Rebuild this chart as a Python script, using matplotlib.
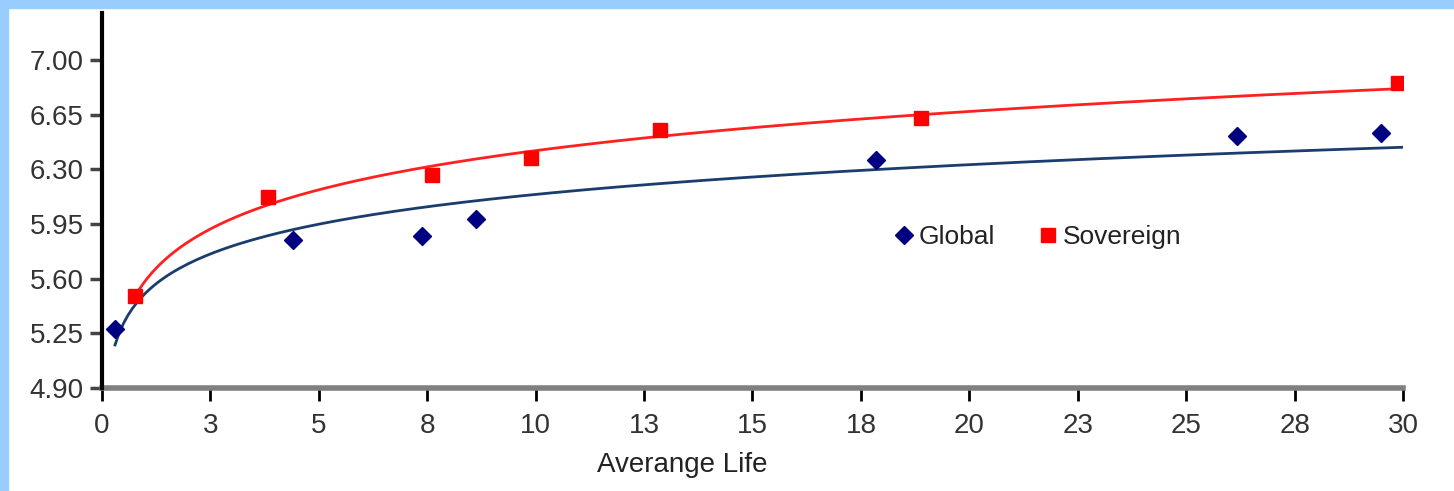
import numpy as np
import matplotlib
matplotlib.use("Agg")
import matplotlib.pyplot as plt
from matplotlib.patches import Rectangle

# ---- data ----
global_x = [0.30, 4.40, 7.38, 8.62, 17.85, 26.17, 29.49]
global_y = [5.28, 5.85, 5.87, 5.98, 6.36, 6.51, 6.53]
sov_x = [0.76, 3.83, 7.61, 9.89, 12.87, 18.88, 29.88]
sov_y = [5.49, 6.12, 6.26, 6.37, 6.55, 6.63, 6.85]
xtick_pos = [0, 2.5, 5, 7.5, 10, 12.5, 15, 17.5, 20, 22.5, 25, 27.5, 30]
xtick_labels = ['0', '3', '5', '8', '10', '13', '15', '18', '20', '23', '25', '28', '30']
ytick_pos = [4.90, 5.25, 5.60, 5.95, 6.30, 6.65, 7.00]
series_names = ['Global', 'Sovereign']
xlabel = 'Averange Life'

plt.rcParams['font.family'] = ['Liberation Sans', 'DejaVu Sans']

W, H = 1454, 491
fig = plt.figure(figsize=(W / 100, H / 100), dpi=100)
fig.patch.set_facecolor('white')
# light-blue frame on top and left
fig.patches.append(Rectangle((0, 1 - 8 / H), 1, 8 / H, transform=fig.transFigure,
                             color='#99ccff', zorder=0))
fig.patches.append(Rectangle((0, 0), 8 / W, 1, transform=fig.transFigure,
                             color='#99ccff', zorder=0))

ax = fig.add_axes([102 / W, 1 - 388 / H, (1403 - 102) / W, (388 - 13) / H])
ax.set_xlim(0, 30)
ax.set_ylim(4.90, 7.30)

navy = '#000080'
red = '#ff0000'

# logarithmic trend lines
gx = np.array(global_x); gy = np.array(global_y)
sx = np.array(sov_x); sy = np.array(sov_y)
ga, gb = np.polyfit(np.log(gx), gy, 1)
sa, sb = np.polyfit(np.log(sx), sy, 1)
xg = np.linspace(gx.min(), ax.get_xlim()[1], 300)
xs = np.linspace(sx.min(), sx.max(), 300)
ax.plot(xg, ga * np.log(xg) + gb, color='#1a3d6e', lw=2.0, zorder=2)
ax.plot(xs, sa * np.log(xs) + sb, color='#ff2020', lw=2.0, zorder=2)

ax.plot(global_x, global_y, linestyle='none', marker='D', ms=9.5, color=navy,
        mec=navy, label=series_names[0], zorder=3)
ax.plot(sov_x, sov_y, linestyle='none', marker='s', ms=10.5, color=red,
        mec=red, label=series_names[1], zorder=3)

# axes styling
for s in ['top', 'right']:
    ax.spines[s].set_visible(False)
ax.spines['left'].set_color('black')
ax.spines['left'].set_linewidth(3)
ax.spines['bottom'].set_color('#808080')
ax.spines['bottom'].set_linewidth(4)
ax.spines['left'].set_zorder(4)

ax.set_xticks(xtick_pos)
ax.set_xticklabels(xtick_labels)
ax.set_yticks(ytick_pos)
ax.set_yticklabels([f'{v:.2f}' for v in ytick_pos])
ax.tick_params(axis='x', direction='out', length=9, width=2, color='black',
               pad=9, labelsize=20, labelcolor='#333333')
ax.tick_params(axis='y', direction='out', length=9, width=2.5, color='#444444',
               pad=4, labelsize=20, labelcolor='#333333')

ax.set_xlabel(xlabel, fontsize=20, color='#222222')
ax.xaxis.set_label_coords(0.446, -0.172)

leg = ax.legend(loc='center', bbox_to_anchor=(0.72, 0.403), ncol=2, frameon=False,
                fontsize=19, handlelength=0.6, handletextpad=0.25,
                columnspacing=1.7, borderpad=0, markerscale=0.95)
for t in leg.get_texts():
    t.set_color('#222222')

fig.savefig('out.png', dpi=100)
